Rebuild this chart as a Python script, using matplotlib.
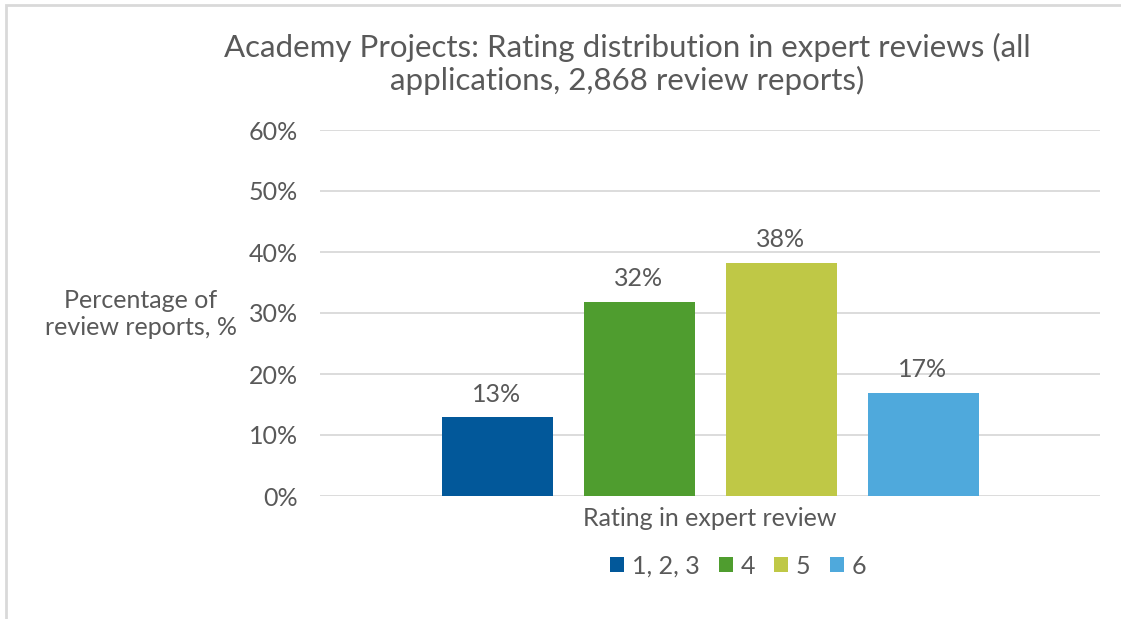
import matplotlib.pyplot as plt
from matplotlib.patches import Rectangle

# Data
categories = ['1, 2, 3', '4', '5', '6']
values = [12.9, 31.8, 38.2, 16.9]
colors = ['#02589A', '#4F9D2F', '#BFC846', '#4FA9DC']
yticks = [0, 10, 20, 30, 40, 50, 60]

plt.rcParams['font.family'] = ['Lato', 'DejaVu Sans']
text_color = '#595959'

fig = plt.figure(figsize=(11.21, 6.19), dpi=100)
ax = fig.add_axes([320 / 1121, 1 - 496 / 619, 780 / 1121, 366 / 619])

step = 142 / 780
width = 111 / 780
for i, (cat, val, col) in enumerate(zip(categories, values, colors)):
    x = (i - 1.5) * step
    ax.bar(x, val, width=width, color=col, label=cat, zorder=3)
    ax.text(x, val + 1.9, f'{val:.0f}%', ha='center', va='bottom',
            fontsize=18, color=text_color)

ax.set_xlim(-0.5, 0.5)
ax.set_ylim(0, 60)
ax.set_yticks(yticks)
ax.set_yticklabels([f'{t}%' for t in yticks], fontsize=18, color=text_color)
ax.set_xticks([])
ax.tick_params(axis='y', length=0, pad=16)
ax.grid(axis='y', color='#D9D9D9', linewidth=1.3, zorder=0)
for s in ax.spines.values():
    s.set_visible(False)

ax.set_xlabel('Rating in expert review', fontsize=18, color=text_color, labelpad=8)

fig.text(141 / 1121, 1 - 314 / 619, 'Percentage of\nreview reports, %', ha='center',
         va='center', fontsize=18, color=text_color, linespacing=1.25)

fig.text(627 / 1121, 1 - 64 / 619,
         'Academy Projects: Rating distribution in expert reviews (all\napplications, 2,868 review reports)',
         ha='center', va='center', fontsize=22.5, color=text_color, linespacing=1.15)

leg = fig.legend(loc='center', bbox_to_anchor=(738 / 1121, 1 - 566 / 619), ncol=4,
                 frameon=False, fontsize=18, handlelength=0.56, handleheight=0.56,
                 handletextpad=0.32, columnspacing=0.76)
for t in leg.get_texts():
    t.set_color(text_color)

# light frame around the chart area
fig.add_artist(Rectangle((6 / 1121, -0.1), 1.2, 1 - 5 / 619 + 0.1, transform=fig.transFigure,
                         fill=False, edgecolor='#D9D9D9', linewidth=2))

fig.savefig('out.png', dpi=100)
